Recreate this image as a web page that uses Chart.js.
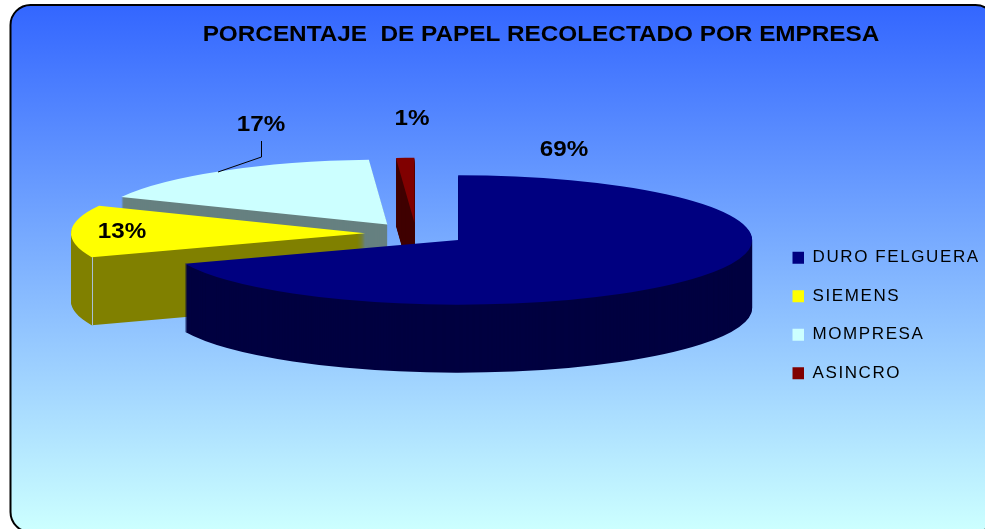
<!DOCTYPE html>
<html>
<head>
<meta charset="utf-8">
<script src="https://cdn.jsdelivr.net/npm/chart.js@4"></script>
<style>
html, body { margin: 0; padding: 0; background: #fff; }
#wrap { width: 985px; height: 529px; }
</style>
</head>
<body>
<div id="wrap"><canvas id="pie" width="985" height="529"></canvas></div>
<script>
const categories = ['DURO FELGUERA', 'SIEMENS', 'MOMPRESA', 'ASINCRO'];
const values = [69, 13, 17, 1];
const topColors = ['#000080', '#ffff00', '#ccffff', '#800000'];
const sideColors = ['#000040', '#808000', '#668080', '#400000'];
const labelSpots = [[564, 150], [122, 232], [261, 125], [412, 119]];

// Squashed pie settings
const centerX = 416, centerY = 233.7;
const squash = 0.22, depth = 68, explode = 51;
const paintOrder = [2, 3, 1, 0]; // back to front
const titleStretch = 1.105, labelStretch = 1.1; // the original text is a bit wider than Arial

const fontName = '"Liberation Sans", Arial, sans-serif';

function paintArc(ctx, arc, color, dy) {
    const mid = (arc.startAngle + arc.endAngle) / 2;
    const saved = arc.options;
    arc.options = Object.create(saved, { backgroundColor: { value: color } });
    ctx.save();
    ctx.translate(centerX, centerY + dy);
    ctx.scale(1, squash);
    ctx.translate(Math.cos(mid) * explode - arc.x, Math.sin(mid) * explode - arc.y);
    arc.draw(ctx);
    ctx.restore();
    arc.options = saved;
}

const backgroundPlugin = {
    id: 'panel',
    beforeDraw(chart) {
        const ctx = chart.ctx;
        const grad = ctx.createLinearGradient(0, 5, 0, 529);
        grad.addColorStop(0, '#3366ff');
        grad.addColorStop(1, '#ccffff');
        ctx.save();
        ctx.beginPath();
        ctx.roundRect(10.5, 5, 985, 527, 20);
        ctx.fillStyle = grad;
        ctx.fill();
        ctx.lineWidth = 2;
        ctx.strokeStyle = '#000';
        ctx.stroke();
        ctx.restore();
    }
};

const extrudePlugin = {
    id: 'extrude',
    afterLayout(chart) {
        // legend sits at a fixed place, it does not push the pie around
        chart.legend.left = 771;
        chart.legend.top = 226;
        chart.legend.bottom = 405;
    },
    beforeDraw(chart) {
        const ctx = chart.ctx;
        const title = chart.titleBlock;
        const legend = chart.legend;
        if (!title.wrapped) {
            const drawTitle = title.draw;
            title.draw = function () {
                const mx = (title.left + title.right) / 2;
                ctx.save();
                ctx.translate(mx, 0);
                ctx.scale(titleStretch, 1);
                ctx.translate(-mx, 0);
                drawTitle.call(title);
                ctx.restore();
            };
            title.wrapped = true;
            const drawLegend = legend.draw;
            legend.draw = function () {
                ctx.save();
                ctx.letterSpacing = '1.6px';
                drawLegend.call(legend);
                ctx.restore();
            };
        }
    },
    beforeDatasetsDraw(chart) {
        const ctx = chart.ctx;
        const arcs = chart.getDatasetMeta(0).data;

        paintOrder.forEach(i => {
            for (let d = depth; d > 0; d--) {
                paintArc(ctx, arcs[i], sideColors[i], d);
            }
            if (i === 1) {
                // thin seam where the rim meets the cut face
                const a = arcs[i];
                const mid = (a.startAngle + a.endAngle) / 2;
                const sx = centerX + Math.cos(mid) * explode + Math.cos(a.startAngle) * a.outerRadius;
                const sy = centerY + (Math.sin(mid) * explode + Math.sin(a.startAngle) * a.outerRadius) * squash;
                ctx.beginPath();
                ctx.moveTo(Math.round(sx) + 0.5, sy);
                ctx.lineTo(Math.round(sx) + 0.5, sy + depth);
                ctx.strokeStyle = '#a9bfd6';
                ctx.lineWidth = 1;
                ctx.stroke();
            }
            paintArc(ctx, arcs[i], topColors[i], 0);
        });

        drawLabels(ctx);
        return false;
    }
};

function drawLabels(ctx) {
    const total = values.reduce((a, b) => a + b, 0);
    ctx.save();
    // leader line of the 17% label
    ctx.beginPath();
    ctx.moveTo(261.5, 141);
    ctx.lineTo(261.5, 157);
    ctx.lineTo(218, 172);
    ctx.strokeStyle = '#000';
    ctx.lineWidth = 1;
    ctx.stroke();

    ctx.fillStyle = '#000';
    ctx.font = 'bold 22px ' + fontName;
    ctx.textAlign = 'center';
    ctx.textBaseline = 'middle';
    values.forEach((v, i) => {
        ctx.save();
        ctx.translate(labelSpots[i][0], labelSpots[i][1]);
        ctx.scale(labelStretch, 1);
        ctx.fillText(Math.round(v / total * 100) + '%', 0, 0);
        ctx.restore();
    });
    ctx.restore();
}

new Chart(document.getElementById('pie'), {
    type: 'pie',
    data: {
        labels: categories,
        datasets: [{
            data: values,
            backgroundColor: topColors,
            borderWidth: 0
        }]
    },
    options: {
        responsive: false,
        animation: false,
        radius: 294,
        layout: { padding: { left: 97 } },
        plugins: {
            title: {
                display: true,
                text: 'PORCENTAJE  DE PAPEL RECOLECTADO POR EMPRESA',
                color: '#000',
                font: { family: fontName, size: 22, weight: 'bold' },
                padding: { top: 22, bottom: 0 }
            },
            legend: {
                position: 'right',
                labels: {
                    color: '#000',
                    font: { family: fontName, size: 17 },
                    boxWidth: 11.5,
                    boxHeight: 12,
                    padding: 21.5
                }
            },
            tooltip: { enabled: false }
        }
    },
    plugins: [backgroundPlugin, extrudePlugin]
});
</script>
</body>
</html>
